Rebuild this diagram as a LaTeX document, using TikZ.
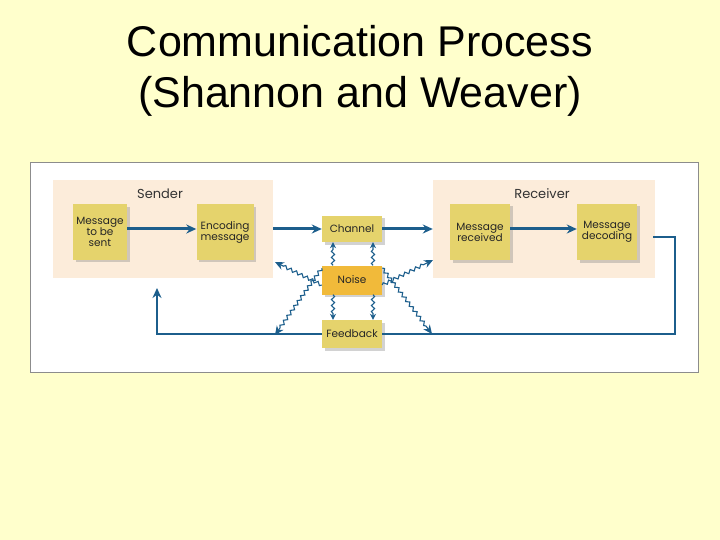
\documentclass[tikz,border=0pt]{standalone}
\usepackage{fontspec}
\setmainfont{Liberation Sans}
\newfontfamily\boxfont{Poppins}
\usetikzlibrary{arrows.meta, decorations.pathmorphing, shadows, calc}
\definecolor{slidebg}{RGB}{255,255,204}
\definecolor{flowblue}{RGB}{28,94,140}
\definecolor{stepyellow}{RGB}{229,211,108}
\definecolor{noiseorange}{RGB}{241,186,58}
\definecolor{groupbg}{RGB}{252,236,218}
\colorlet{panelrim}{black!45}
\tikzset{
  stage/.style={fill=stepyellow, inner sep=1pt, align=center,
    font=\boxfont\fontsize{10.5}{11}\selectfont, text=black!85,
    drop shadow={shadow xshift=2.5pt, shadow yshift=-2.5pt, opacity=0.35}},
  group/.style={fill=groupbg, inner sep=0pt},
  flow/.style={line width=3pt, flowblue, -{Stealth[length=10pt, width=9pt]}},
  loopline/.style={line width=1.6pt, flowblue},
  wave/.style={line width=1.1pt, flowblue, -{Stealth[length=9pt, width=8pt]},
    decorate, decoration={snake, amplitude=1.6pt, segment length=6pt, post length=8pt}},
}

\begin{document}
\begin{tikzpicture}[x=1pt, y=-1pt]
  \fill[slidebg] (0,0) rectangle (720,540);
  \useasboundingbox (0,0) rectangle (720,540);

  \node[font=\fontsize{43}{50}\selectfont, anchor=base] (title1) at (360,57) {Communication Process};
  \node[font=\fontsize{43}{50}\selectfont, anchor=base] (title2) at (360,108) {(Shannon and Weaver)};

  % white panel
  \draw[panelrim, fill=white, line width=0.8pt] (30,162) rectangle (698,372);

  \node[group, minimum width=220pt, minimum height=98pt] (sender) at (163,229) {};
  \node[group, minimum width=222pt, minimum height=97pt] (receiver) at (544,229) {};
  \node[font=\boxfont\fontsize{13}{14}\selectfont, text=black!80] (senderlab) at (160,194) {Sender};
  \node[font=\boxfont\fontsize{13}{14}\selectfont, text=black!80] (receiverlab) at (542,194) {Receiver};

  \node[stage, minimum width=54pt, minimum height=55pt] (sent) at (100,232) {Message\\to be\\sent};
  \node[stage, minimum width=57pt, minimum height=55pt] (encode) at (225,232) {Encoding\\message};
  \node[stage, minimum width=60pt, minimum height=26pt] (channel) at (352,229) {Channel};
  \node[stage, fill=noiseorange, minimum width=60pt, minimum height=29pt] (noise) at (352,280) {Noise};
  \node[stage, minimum width=60pt, minimum height=28pt] (feedback) at (352,334) {Feedback};
  \node[stage, minimum width=60pt, minimum height=56pt] (received) at (480,232) {Message\\received};
  \node[stage, minimum width=60pt, minimum height=56pt] (decode) at (607,232) {Message\\decoding};

  \draw[flow] ([yshift=3pt]sent.east) -- ([yshift=3pt]encode.west);
  \draw[flow] (sender.east |- channel) -- (channel.west);
  \draw[flow] (channel.east) -- (receiver.west |- channel);
  \draw[flow] ([yshift=3pt]received.east) -- ([yshift=3pt]decode.west);

  % feedback loop
  \coordinate (loopstart) at ($(decode.east)+(16,5)$);
  \coordinate (loopcorner) at (675,334);
  \coordinate (fbup) at (157,288);
  \draw[loopline] (loopstart) -| (loopcorner) -- (feedback.east);
  \draw[loopline, -{Stealth[length=10pt, width=9pt]}] (feedback.west) -| (fbup);

  % noise
  \coordinate (nzul) at (275,262);
  \coordinate (nzur) at (433,260);
  \coordinate (nzll) at (275,335);
  \coordinate (nzlr) at (432,334);
  \draw[wave] ([yshift=-5pt]noise.west) -- (nzul);
  \draw[wave] ([yshift=12pt]noise.west) -- (nzll);
  \draw[wave] ([yshift=-5pt]noise.east) -- (nzur);
  \draw[wave] ([yshift=12pt]noise.east) -- (nzlr);
  \foreach \dx in {-19,21} {
    \draw[wave, -{Stealth[length=6pt, width=6pt]}, decoration={post length=5pt}] ([xshift=\dx pt]noise.north) -- ([xshift=\dx pt]channel.south);
    \draw[wave, -{Stealth[length=6pt, width=6pt]}, decoration={post length=5pt}] ([xshift=\dx pt]noise.south) -- ([xshift=\dx pt]feedback.north);
  }
\end{tikzpicture}
\end{document}
